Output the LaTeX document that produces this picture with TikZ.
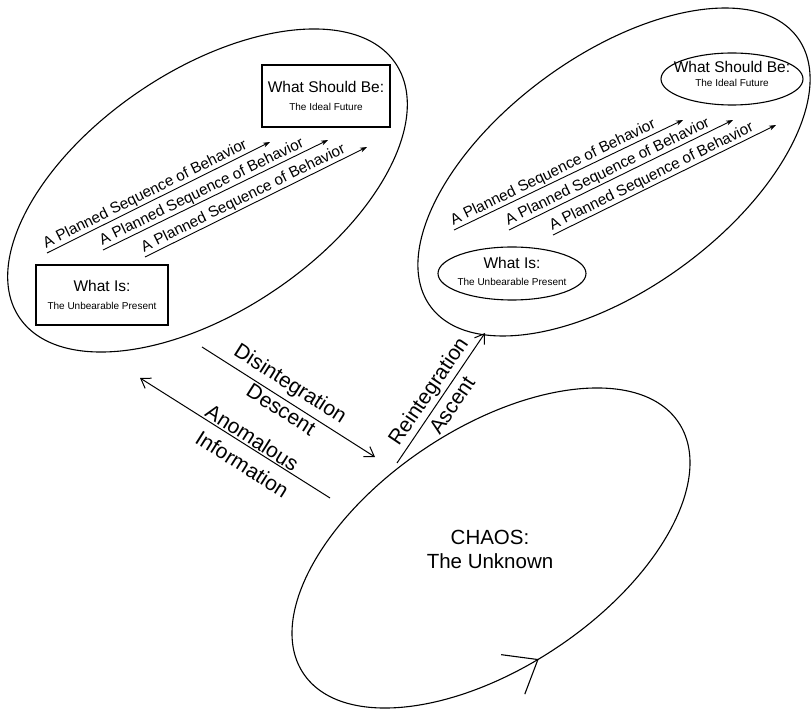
\documentclass[tikz,border=0pt]{standalone}
\usepackage{fontspec}
\setmainfont{Liberation Sans}
\usetikzlibrary{arrows.meta,shapes.geometric,decorations.markings}
\newcommand{\ttlfont}[1]{{\fontsize{15.5}{18}\selectfont #1}}
\begin{document}
\begin{tikzpicture}[x=1pt,y=1pt,
  ring/.style={line width=1.1pt},
  seq/.style={line width=0.9pt,-{Stealth[length=7pt,width=5pt]}},
  seqlbl/.style={pos=0,sloped,anchor=south west,inner sep=1pt,font=\fontsize{15.3}{18}\selectfont},
  big/.style={line width=1pt,-{Straight Barb[length=9pt,width=12pt]}},
  bigrev/.style={line width=1pt,{Straight Barb[length=9pt,width=12pt]}-},
  lbl/.style={sloped,inner sep=0pt,font=\fontsize{21}{24}\selectfont},
  box/.style={draw,line width=1.1pt,rectangle,align=center,inner sep=0pt},
  oval/.style={draw,line width=1.1pt,ellipse,inner sep=0pt},
  ovtxt/.style={align=center,inner sep=0pt},
]
\useasboundingbox (0,0) rectangle (812,713);

% big ellipses
\draw[ring, rotate around={34.05:(207.5,522.5)}] (207.5,522.5) ellipse [x radius=227, y radius=120.3];
\draw[ring, rotate around={36.2:(614,541)}] (614,541) ellipse [x radius=227.5, y radius=116.5];
\draw[ring, rotate around={33.8:(491,165)}, postaction={decorate},
  decoration={markings, mark=at position 0.73 with {\arrow{Straight Barb[length=29pt,width=46pt,line width=1.1pt]}}}]
  (491,165) ellipse [x radius=225.7, y radius=119.4];

% left ellipse contents
\node[box, minimum width=128, minimum height=62, font=\fontsize{10}{18}\selectfont] (lsb) at (326,617)
  {\ttlfont{What Should Be:}\\The Ideal Future};
\node[box, minimum width=132, minimum height=60, font=\fontsize{10}{18}\selectfont] (lis) at (102,418)
  {\ttlfont{What Is:}\\The Unbearable Present};

\coordinate (a1s) at (47,460);  \coordinate (a1e) at (270,571);
\coordinate (a2s) at (103,463); \coordinate (a2e) at (328,573);
\coordinate (a3s) at (145,456); \coordinate (a3e) at (367,566);
\draw[seq] (a1s) -- (a1e) node[seqlbl] {A Planned Sequence of Behavior};
\draw[seq] (a2s) -- (a2e) node[seqlbl] {A Planned Sequence of Behavior};
\draw[seq] (a3s) -- (a3e) node[seqlbl] {A Planned Sequence of Behavior};

% right ellipse contents
\node[oval, minimum width=142, minimum height=52] (rsb) at (732,634) {};
\node[ovtxt, font=\fontsize{10}{14}\selectfont] (rsbt) at (732,639)
  {\ttlfont{What Should Be:}\\The Ideal Future};
\node[oval, minimum width=148, minimum height=53] (ris) at (512,439.5) {};
\node[ovtxt, font=\fontsize{10}{17}\selectfont] (rist) at (512,441.6)
  {\ttlfont{What Is:}\\The Unbearable Present};

\coordinate (b1s) at (454,483); \coordinate (b1e) at (683,593);
\coordinate (b2s) at (509,483); \coordinate (b2e) at (733,593);
\coordinate (b3s) at (553,478); \coordinate (b3e) at (776,588);
\draw[seq] (b1s) -- (b1e) node[seqlbl] {A Planned Sequence of Behavior};
\draw[seq] (b2s) -- (b2e) node[seqlbl] {A Planned Sequence of Behavior};
\draw[seq] (b3s) -- (b3e) node[seqlbl] {A Planned Sequence of Behavior};

% transition arrows
\coordinate (ds) at (202,366); \coordinate (de) at (375,256);
\draw[big] (ds) -- (de)
  node[lbl,pos=0.46,above=5pt] (dis) {Disintegration}
  node[lbl,pos=0.49,below=2.5pt] (des) {Descent};
\coordinate (at) at (140,335); \coordinate (ae) at (330,215);
\draw[bigrev] (at) -- (ae)
  node[lbl,pos=0.564,above=1.5pt] (ano) {Anomalous}
  node[lbl,pos=0.59,below=10pt] (inf) {Information};
\coordinate (rs) at (397,250); \coordinate (re) at (485,380);
\draw[big] (rs) -- (re)
  node[lbl,pos=0.49,above=2.6pt] (rei) {Reintegration}
  node[lbl,pos=0.5,below=5.4pt] (asc) {Ascent};

% chaos
\node[align=center, inner sep=0pt, font=\fontsize{20.5}{24}\selectfont] (chaos) at (490,164) {CHAOS:\\The Unknown};
\end{tikzpicture}
\end{document}
